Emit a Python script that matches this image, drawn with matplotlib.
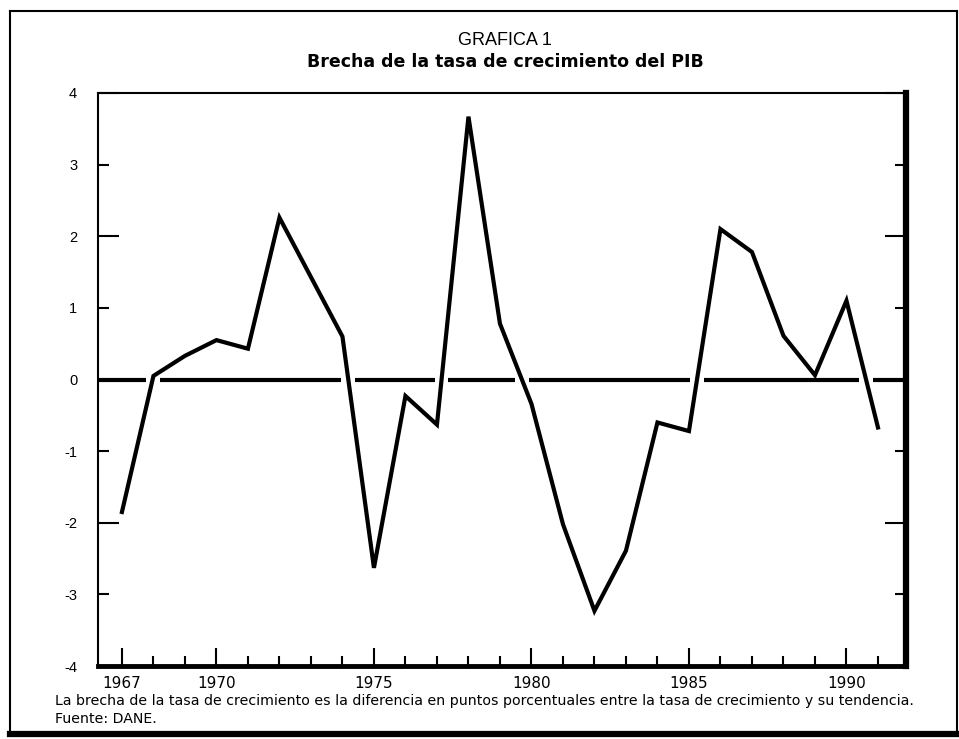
import matplotlib
matplotlib.use("Agg")
import matplotlib.pyplot as plt
from matplotlib.lines import Line2D
import numpy as np

# ---- data ----
years = [1967, 1968, 1969, 1970, 1971, 1972, 1973, 1974, 1975, 1976, 1977, 1978,
         1979, 1980, 1981, 1982, 1983, 1984, 1985, 1986, 1987, 1988, 1989, 1990, 1991]
gap = [-1.85, 0.05, 0.33, 0.55, 0.43, 2.26, 1.43, 0.60, -2.63, -0.23, -0.63, 3.67,
       0.78, -0.34, -2.02, -3.23, -2.39, -0.60, -0.72, 2.10, 1.78, 0.61, 0.06, 1.10, -0.67]
xtick_major = [1967, 1970, 1975, 1980, 1985, 1990]
ytick_even = [-4, -2, 0, 2, 4]
ytick_odd = [-3, -1, 1, 3]

title_top = "GRAFICA 1"
title_main = "Brecha de la tasa de crecimiento del PIB"
note1 = ("La brecha de la tasa de crecimiento es la diferencia en puntos porcentuales "
         "entre la tasa de crecimiento y su tendencia.")
note2 = "Fuente: DANE."

W, H = 959, 739
fig = plt.figure(figsize=(W / 100, H / 100), dpi=100)
fig.patch.set_facecolor("white")

def fx(px):
    return px / W

def fy(py):
    return 1 - py / H

ax = fig.add_axes([fx(98), fy(666), fx(906) - fx(98), fy(93) - fy(666)])
ax.set_xlim(1966.24, 1991.89)
ax.set_ylim(-4, 4)

# zero reference line with gaps where the series crosses it
x_arr = np.array(years, dtype=float)
y_arr = np.array(gap, dtype=float)
cross = []
for i in range(len(x_arr) - 1):
    if y_arr[i] * y_arr[i + 1] < 0:
        cross.append(x_arr[i] + y_arr[i] / (y_arr[i] - y_arr[i + 1]))
half = 0.22
x_lo, x_hi = ax.get_xlim()
starts = [x_lo] + [c + half for c in cross]
ends = [c - half for c in cross] + [x_hi]
for s, e in zip(starts, ends):
    ax.plot([s, e], [0, 0], color="black", lw=3.0, solid_capstyle="butt", zorder=2)

ax.plot(years, gap, color="black", lw=3.0, solid_joinstyle="miter", zorder=3)

# spines
for side in ["left", "top"]:
    ax.spines[side].set_linewidth(1.5)
ax.spines["right"].set_linewidth(4.5)
ax.spines["bottom"].set_linewidth(3.5)

# ticks
ax.set_xticks(xtick_major)
ax.set_xticklabels([str(v) for v in xtick_major], fontsize=11, family="DejaVu Sans")
ax.set_xticks(years, minor=True)
ax.tick_params(axis="x", which="major", direction="in", length=13, width=1.5, pad=7)
ax.tick_params(axis="x", which="minor", direction="in", length=7, width=1.5)

ax.set_yticks(ytick_even)
ax.set_yticklabels([str(v) for v in ytick_even], fontsize=10.5, family="Liberation Sans")
ax.set_yticks(ytick_odd, minor=True)
ax.set_yticklabels([str(v) for v in ytick_odd], minor=True, fontsize=10.5, family="Liberation Sans")
ax.tick_params(axis="y", which="major", direction="in", length=15, width=1.5, pad=15,
               left=True, right=True)
ax.tick_params(axis="y", which="minor", direction="in", length=8, width=1.5, pad=15,
               left=True, right=True)

# titles
fig.text(fx(505), fy(45), title_top, ha="center", va="baseline", fontsize=13,
         family="Liberation Sans")
fig.text(fx(505), fy(67), title_main, ha="center", va="baseline", fontsize=12.5,
         fontweight="bold", family="DejaVu Sans")

# footnotes
fig.text(fx(55), fy(705), note1, ha="left", va="baseline", fontsize=10.2, family="DejaVu Sans")
fig.text(fx(55), fy(723), note2, ha="left", va="baseline", fontsize=10.2, family="DejaVu Sans")

# outer frame
fig.add_artist(Line2D([fx(10), fx(10)], [fy(11), fy(733)], transform=fig.transFigure,
                      color="black", lw=1.5))
fig.add_artist(Line2D([fx(10), fx(957)], [fy(11), fy(11)], transform=fig.transFigure,
                      color="black", lw=1.5))
fig.add_artist(Line2D([fx(957), fx(957)], [fy(11), fy(733)], transform=fig.transFigure,
                      color="black", lw=1.5))
fig.add_artist(Line2D([fx(10), fx(957)], [fy(734), fy(734)], transform=fig.transFigure,
                      color="black", lw=4.5))

fig.savefig("out.png", dpi=100, facecolor="white")
